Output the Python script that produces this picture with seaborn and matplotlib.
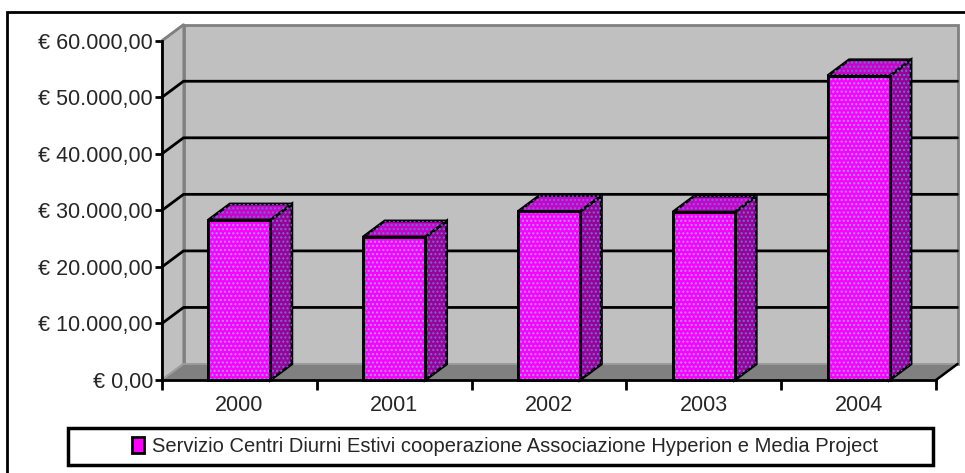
import numpy as np
import pandas as pd
import matplotlib
matplotlib.use("Agg")
import matplotlib.pyplot as plt
import matplotlib.transforms as mtransforms
from matplotlib.patches import Polygon, Rectangle
from matplotlib.lines import Line2D
from matplotlib.ticker import FuncFormatter, FixedLocator
import seaborn as sns

# data
years = ["2000", "2001", "2002", "2003", "2004"]
amounts = [28300, 25300, 29800, 29700, 53800]
y_ticks = [0, 10000, 20000, 30000, 40000, 50000, 60000]
series_label = "Servizio Centri Diurni Estivi cooperazione Associazione Hyperion e Media Project"

# look
FRONT = "#FF00FF"
SIDE = "#990099"
TOP = "#CC00CC"
DOTS = "#9C9CFF"
WALL = "#C0C0C0"
FLOOR = "#808080"
DX, DY = 21.5, 16.0  # depth of the 3d box, pixels

sns.set_style("white")
plt.rcParams["font.family"] = ["Liberation Sans", "DejaVu Sans"]
FS_AX = 15.5
FS_LEG = 14.5

W, H = 965, 473
fig = plt.figure(figsize=(W / 100, H / 100), dpi=100)


def fx(px):
    return px / W


def fy(py):
    return 1 - py / H


ax = fig.add_axes([fx(162), fy(380), fx(936) - fx(162), fy(40.7) - fy(380)])
ax.set_facecolor("none")

df = pd.DataFrame({"year": years, "amount": amounts})
sns.barplot(data=df, x="year", y="amount", width=0.4, color=FRONT, saturation=1,
            edgecolor="black", linewidth=2, ax=ax, zorder=5)
bars = list(ax.patches)

ax.set_xlim(-0.5, len(years) - 0.5)
ax.set_ylim(y_ticks[0], y_ticks[-1])
ax.set_xlabel("")
ax.set_ylabel("")

ident = mtransforms.IdentityTransform()
ytrans = ax.get_yaxis_transform()


def front(xa, yd):
    return ytrans.transform((xa, yd))


def back(xa, yd):
    return front(xa, yd) + np.array([DX, DY])


ymin, ymax = y_ticks[0], y_ticks[-1]

# back wall, side wall, floor
bw = [back(0, ymin), back(1, ymin), back(1, ymax), back(0, ymax)]
ax.add_patch(Polygon(bw, closed=True, transform=ident, fc=WALL, ec="#808080",
                     lw=2, zorder=0.5, clip_on=False))
sw = [front(0, ymin), front(0, ymax), back(0, ymax), back(0, ymin)]
ax.add_patch(Polygon(sw, closed=True, transform=ident, fc=WALL, ec="#808080",
                     lw=1.5, zorder=0.6, clip_on=False))
fl = [front(0, ymin), front(1, ymin), back(1, ymin), back(0, ymin)]
ax.add_patch(Polygon(fl, closed=True, transform=ident, fc=FLOOR, ec="#A0A0A0",
                     lw=1.2, zorder=0.7, clip_on=False))
# right edge of floor is black
p1, p2 = front(1, ymin), back(1, ymin)
ax.add_line(Line2D([p1[0], p2[0]], [p1[1], p2[1]], transform=ident, color="black",
                   lw=1.8, zorder=2.6, clip_on=False))

# gridlines on back wall and side wall
for v in y_ticks[1:-1]:
    a, b, c = front(0, v), back(0, v), back(1, v)
    ax.add_line(Line2D([a[0], b[0], c[0]], [a[1], b[1], c[1]], transform=ident,
                       color="black", lw=2, zorder=0.9, clip_on=False))
# top-left corner edge
a, b = front(0, ymax), back(0, ymax)
ax.add_line(Line2D([a[0], b[0]], [a[1], b[1]], transform=ident, color="#808080",
                   lw=2, zorder=0.9, clip_on=False))

# 3d faces of the bars
for bar in bars:
    x0, x1 = bar.get_x(), bar.get_x() + bar.get_width()
    h = bar.get_height()
    f10 = ax.transData.transform((x1, 0))
    f11 = ax.transData.transform((x1, h))
    f01 = ax.transData.transform((x0, h))
    d = np.array([DX, DY])
    side = [f10, f11, f11 + d, f10 + d]
    top = [f01, f11, f11 + d, f01 + d]
    for pts, col in ((side, SIDE), (top, TOP)):
        ax.add_patch(Polygon(pts, closed=True, transform=ident, fc=col, ec="black",
                             lw=2, zorder=3, clip_on=False))
        ax.add_patch(Polygon(pts, closed=True, transform=ident, fc="none", ec="#7070D0",
                             lw=0, hatch="....", zorder=3.1, clip_on=False))
    # dotted texture on the front face
    ax.add_patch(Rectangle((x0, 0), x1 - x0, h, fc="none", ec=DOTS, lw=0,
                           hatch="....", zorder=5.1, clip_on=False))
    ax.add_patch(Rectangle((x0, 0), x1 - x0, h, fc="none", ec="black", lw=2,
                           zorder=5.2, clip_on=False))

# axes, ticks, labels
for s in ("top", "right"):
    ax.spines[s].set_visible(False)
for s in ("left", "bottom"):
    ax.spines[s].set_linewidth(2)
    ax.spines[s].set_color("black")
    ax.spines[s].set_zorder(2.5)


def euro(v, pos=None):
    s = f"{v:,.2f}".replace(",", "X").replace(".", ",").replace("X", ".")
    return "€ " + s


ax.yaxis.set_major_locator(FixedLocator(y_ticks))
ax.yaxis.set_major_formatter(FuncFormatter(euro))
ax.tick_params(axis="y", direction="out", length=5, width=2, color="black",
               labelsize=FS_AX, pad=1.5, left=True)
ax.xaxis.set_minor_locator(FixedLocator(np.arange(-0.5, len(years), 1.0)))
ax.tick_params(axis="x", which="major", length=0, labelsize=FS_AX, pad=10.5)
ax.tick_params(axis="x", which="minor", direction="out", length=7, width=2,
               color="black", bottom=True)
ax.grid(False)

# legend
fig.add_artist(Rectangle((fx(68), fy(465)), fx(933) - fx(68), fy(428.3) - fy(465),
                         transform=fig.transFigure, fc="white", ec="black", lw=2.5))
handle = Rectangle((0, 0), 1, 1, fc=FRONT, ec="black", lw=2)
fig.legend([handle], [series_label], loc="center", bbox_to_anchor=(fx(505), fy(446.5)),
           frameon=False, fontsize=FS_LEG, handlelength=0.6, handleheight=0.8,
           handletextpad=0.4, borderpad=0)

# outer chart border (right and bottom edges are cut off in the image)
fig.add_artist(Rectangle((fx(7), -0.2), 1.2, fy(12) + 0.2, transform=fig.transFigure,
                         fill=False, ec="black", lw=2))

fig.savefig("out.png", dpi=100, facecolor="white")
